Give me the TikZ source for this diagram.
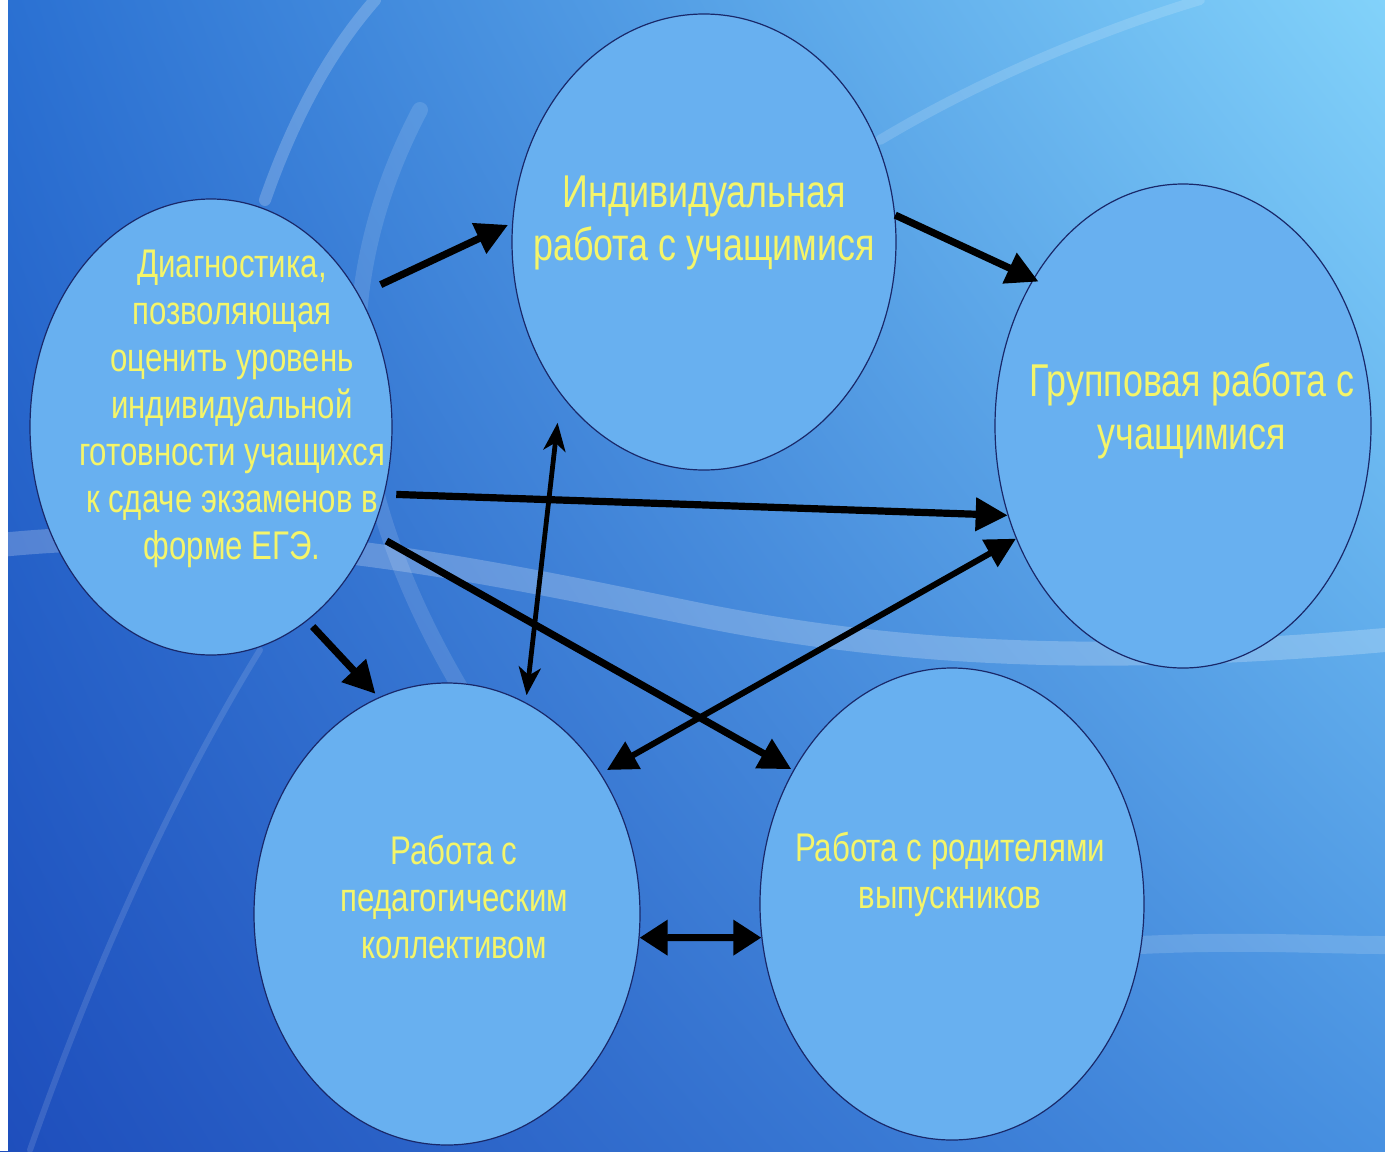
\documentclass[tikz,border=0pt]{standalone}
\usepackage{fontspec}
\setmainfont[FakeStretch=0.78]{Liberation Sans}
\usetikzlibrary{shapes.geometric,arrows.meta,calc,shadings}
\definecolor{bgUL}{RGB}{42,112,210}
\definecolor{bgUR}{RGB}{130,210,250}
\definecolor{bgLL}{RGB}{30,78,188}
\definecolor{bgLR}{RGB}{72,145,225}
\definecolor{ellfill}{RGB}{104,176,240}
\definecolor{ellline}{RGB}{25,40,105}
\definecolor{txtyellow}{RGB}{245,245,105}
\tikzset{
  blob/.style={ellipse, draw=ellline, line width=0.6pt, fill=ellfill, inner sep=0pt},
  bigtxt/.style={text=txtyellow, align=center, font=\fontsize{23pt}{26.5pt}\selectfont},
  smalltxt/.style={text=txtyellow, align=center, font=\fontsize{20pt}{23.5pt}\selectfont},
  thickarrow/.style={line width=3.6pt, -{Triangle[length=16pt,width=16pt]}},
  thinboth/.style={line width=2.4pt, {Stealth[length=14pt,width=11pt,inset=4pt]}-{Stealth[length=14pt,width=11pt,inset=4pt]}},
  midboth/.style={line width=3pt, {Triangle[length=15pt,width=15pt]}-{Triangle[length=15pt,width=15pt]}},
  horizboth/.style={line width=3.4pt, {Triangle[length=14pt,width=17pt]}-{Triangle[length=14pt,width=17pt]}},
  swirl/.style={white, line cap=round}
}
\begin{document}
\begin{tikzpicture}[x=0.5pt,y=-0.5pt]
\useasboundingbox (0,0) rectangle (1385,1151);
\shade[upper left=bgUL, upper right=bgUR, lower left=bgLL, lower right=bgLR] (0,0) rectangle (1385,1151);
\fill[white] (0,0) rectangle (8,1151);
% decorative swirls of the background
\draw[swirl, opacity=0.2, line width=6pt] (265,200) .. controls (300,100) and (340,40) .. (375,0);
\draw[swirl, opacity=0.15, line width=5pt] (880,140) .. controls (980,80) and (1100,30) .. (1200,0);
\draw[swirl, opacity=0.22, line width=12pt] (0,545) .. controls (250,520) and (480,570) .. (700,615) .. controls (900,655) and (1100,665) .. (1385,640);
\draw[swirl, opacity=0.15, line width=9pt] (1140,945) .. controls (1250,940) and (1320,945) .. (1385,945);
\draw[swirl, opacity=0.12, line width=3pt] (30,1150) .. controls (100,950) and (180,780) .. (260,650);
\draw[swirl, opacity=0.12, line width=8pt] (420,110) .. controls (320,300) and (340,500) .. (480,720);
% ellipses
\node[blob, minimum width=181pt, minimum height=228pt] (L) at (211,427) {};
\node[blob, minimum width=192pt, minimum height=228pt] (T) at (704,242) {};
\node[blob, minimum width=188pt, minimum height=242pt] (R) at (1183,426) {};
\node[blob, minimum width=193pt, minimum height=231pt] (B) at (447,914) {};
\node[blob, minimum width=192pt, minimum height=236pt] (D) at (952,904) {};
% texts
\node[bigtxt] (tT) at (704,223) {Индивидуальная\\работа с учащимися};
\node[smalltxt] (tL) at (232,409) {Диагностика,\\позволяющая\\оценить уровень\\индивидуальной\\готовности учащихся\\к сдаче экзаменов в\\форме ЕГЭ.};
\node[bigtxt] (tR) at (1192,411) {Групповая работа с\\учащимися};
\node[smalltxt] (tB) at (454,897) {Работа с\\педагогическим\\коллективом};
\node[smalltxt] (tD) at (950,874) {Работа с родителями\\выпускников};
% connectors
\draw[thickarrow] ($(L)!1.123!(L.40)$) -- ($(T)!1.02!(T.175)$);
\draw[thickarrow] ($(T)!1.0!(T.8.6)$) -- ($(R)!0.97!(R.135.4)$);
\draw[thickarrow] ($(L)!1.062!(L.-20.8)$) -- ($(R)!1.0!(R.207)$);
\draw[thickarrow] ($(L)!1.087!(L.-33.7)$) -- ($(D)!1.01!(D.140.4)$);
\draw[thickarrow] ($(L)!1.037!(L.-63.8)$) -- ($(B)!1.02!(B.108)$);
\draw[thinboth] ($(T)!1.097!(T.-129.7)$) -- ($(B)!1.03!(B.70.4)$);
\draw[midboth] ($(R)!1.0!(R.214.9)$) -- ($(B)!1.034!(B.42.7)$);
\draw[horizboth] ($(B)!1.0!(B.-7.2)$) -- ($(D)!1.0!(D.190)$);
\end{tikzpicture}
\end{document}
